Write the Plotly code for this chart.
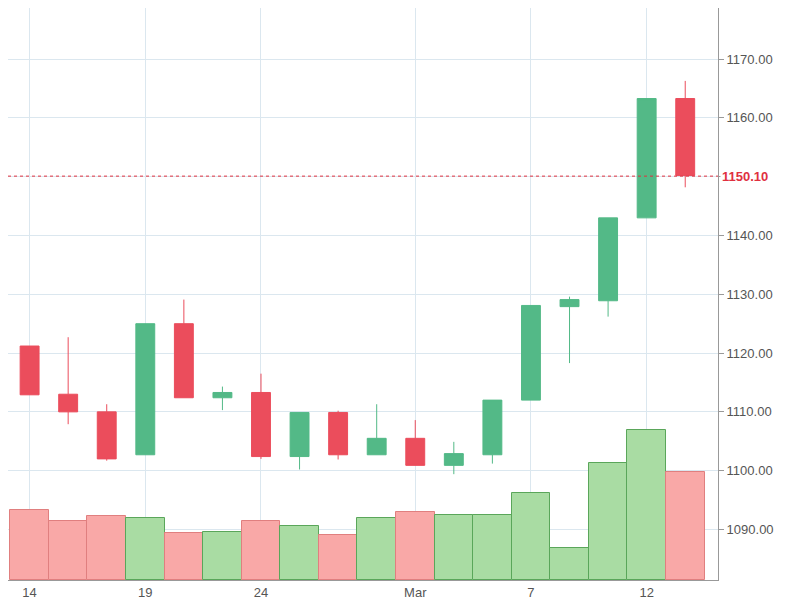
import plotly.graph_objects as go

dates = ["Feb 14", "Feb 16", "Feb 17", "Feb 19", "Feb 21", "Feb 22", "Feb 24", "Feb 26", "Feb 27",
         "Feb 29", "Mar 1", "Mar 3", "Mar 5", "Mar 7", "Mar 8", "Mar 10", "Mar 12", "Mar 13"]
opens = [1121.2, 1113.0, 1110.0, 1102.7, 1125.0, 1112.4, 1113.3, 1102.4, 1109.9,
         1102.7, 1105.5, 1100.9, 1102.7, 1112.0, 1127.9, 1128.9, 1143.0, 1163.3]
highs = [1121.2, 1122.7, 1111.3, 1125.0, 1129.1, 1114.3, 1116.5, 1109.9, 1110.2,
         1111.3, 1108.6, 1104.9, 1112.0, 1128.1, 1129.6, 1143.0, 1163.3, 1166.3]
lows = [1112.9, 1107.9, 1101.7, 1102.7, 1112.4, 1110.3, 1102.0, 1100.2, 1101.9,
        1102.7, 1100.9, 1099.4, 1101.2, 1112.0, 1118.3, 1126.2, 1143.0, 1148.2]
closes = [1112.9, 1110.0, 1102.0, 1125.0, 1112.4, 1113.3, 1102.4, 1109.9, 1102.7,
          1105.5, 1100.9, 1102.9, 1112.0, 1128.1, 1129.1, 1143.0, 1163.3, 1150.2]
volumes = [71, 60, 65, 63, 48, 49, 60, 55, 46, 63, 69, 66, 66, 88, 32, 119, 152, 110]
last_price = 1150.10

tick_dates = ["Feb 14", "Feb 19", "Feb 24", "Mar 1", "Mar 7", "Mar 12"]
tick_labels = ["14", "19", "24", "Mar", "7", "12"]

up, down = "#53b987", "#eb4d5c"
vol_fill = ["#a9dca3" if c >= o else "#f9a8a7" for o, c in zip(opens, closes)]
vol_line = ["#5aa65a" if c >= o else "#e07f7f" for o, c in zip(opens, closes)]

fig = go.Figure()
fig.add_trace(go.Bar(
    x=dates, y=volumes, width=1, marker=dict(color=vol_fill, line=dict(color=vol_line, width=1)),
    yaxis="y", showlegend=False,
))
fig.add_trace(go.Candlestick(
    x=dates, open=opens, high=highs, low=lows, close=closes, yaxis="y2",
    increasing=dict(fillcolor=up, line=dict(color=up, width=1)),
    decreasing=dict(fillcolor=down, line=dict(color=down, width=1)),
    whiskerwidth=0, showlegend=False,
))

fig.add_shape(type="line", xref="paper", x0=0, x1=1, yref="y2", y0=last_price, y1=last_price,
              line=dict(color="#e0303f", width=1, dash="dot"))
fig.add_annotation(xref="paper", x=1.0, xanchor="left", yref="y2", y=last_price,
                   text="<b>%.2f</b>" % last_price, showarrow=False, width=70, align="left",
                   font=dict(color="#e0303f", size=13, family="Arial"),
                   bgcolor="white", xshift=2)

fig.update_layout(
    width=792, height=592, margin=dict(l=0, r=82, t=0, b=20),
    plot_bgcolor="white", paper_bgcolor="white",
    font=dict(family="Arial", size=12, color="#555"),
    xaxis=dict(type="category", range=[-0.56, 17.85], tickvals=tick_dates, ticktext=tick_labels,
               showgrid=True, gridcolor="#dbe7ef", rangeslider=dict(visible=False),
               showline=True, linecolor="#999", ticks="", tickfont=dict(size=13)),
    yaxis=dict(range=[0, 580], visible=False, showgrid=False),
    yaxis2=dict(overlaying="y", side="right", range=[1081.4, 1178.7], dtick=10, tickformat=".2f",
                showgrid=True, gridcolor="#dbe7ef", showline=True, linecolor="#999",
                ticks="outside", ticklen=5, tickcolor="#999", tickfont=dict(size=13)),
    bargap=0,
)

fig.write_html("out.html")
